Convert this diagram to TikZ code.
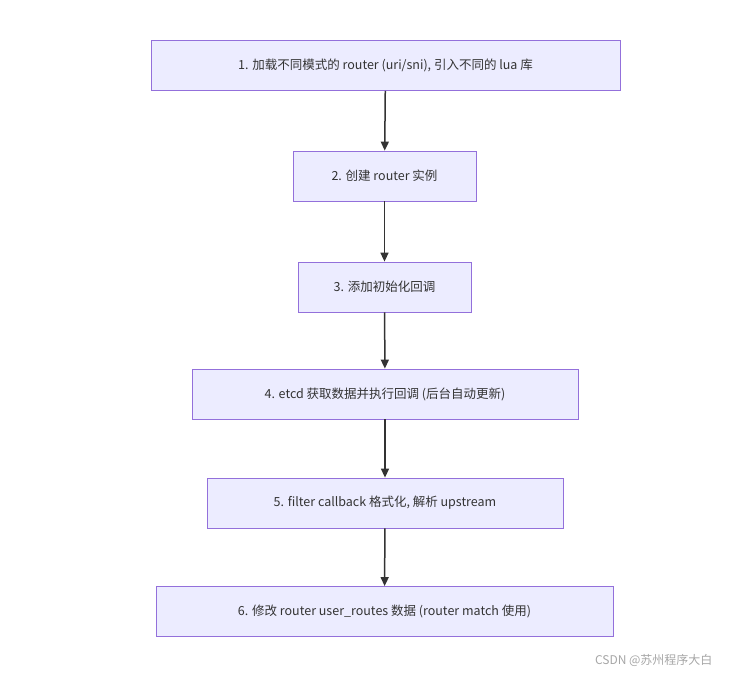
\documentclass[tikz,border=0pt]{standalone}
\usepackage{fontspec}
\setmainfont{Noto Sans CJK SC}
\usetikzlibrary{arrows.meta}
\definecolor{boxfill}{HTML}{ECECFF}
\definecolor{boxline}{HTML}{9370DB}
\definecolor{arr}{HTML}{333333}
\tikzset{
  box/.style={draw=boxline, fill=boxfill, line width=0.8pt, minimum height=50pt, text=arr, font=\fontsize{12.5}{14}\selectfont, anchor=center},
  link/.style={draw=arr, line width=1.5pt, -{Triangle[length=9pt,width=8pt]}}
}
\begin{document}
\begin{tikzpicture}[x=1pt,y=-1pt]
\useasboundingbox (0,0) rectangle (729,678);
\node[box, minimum width=469pt] (n1) at (385.5,65.5) {1. 加载不同模式的 router (uri/sni), 引入不同的 lua 库};
\node[box, minimum width=183pt] (n2) at (384.5,176) {2. 创建 router 实例};
\node[box, minimum width=173pt] (n3) at (384.5,287) {3. 添加初始化回调};
\node[box, minimum width=386pt] (n4) at (385,394) {4. etcd 获取数据并执行回调 (后台自动更新)};
\node[box, minimum width=356pt] (n5) at (385,503) {5. filter callback 格式化, 解析 upstream};
\node[box, minimum width=457pt] (n6) at (384.5,611.5) {6. 修改 router user\_routes 数据 (router match 使用)};
\draw[link] (n1) -- (n2);
\draw[link] (n2) -- (n3);
\draw[link] (n3) -- (n4);
\draw[link] (n4) -- (n5);
\draw[link] (n5) -- (n6);
\node[text=gray!70, font=\fontsize{12}{14}\selectfont, anchor=east] (wm) at (716,660) {CSDN @苏州程序大白};
\end{tikzpicture}
\end{document}
